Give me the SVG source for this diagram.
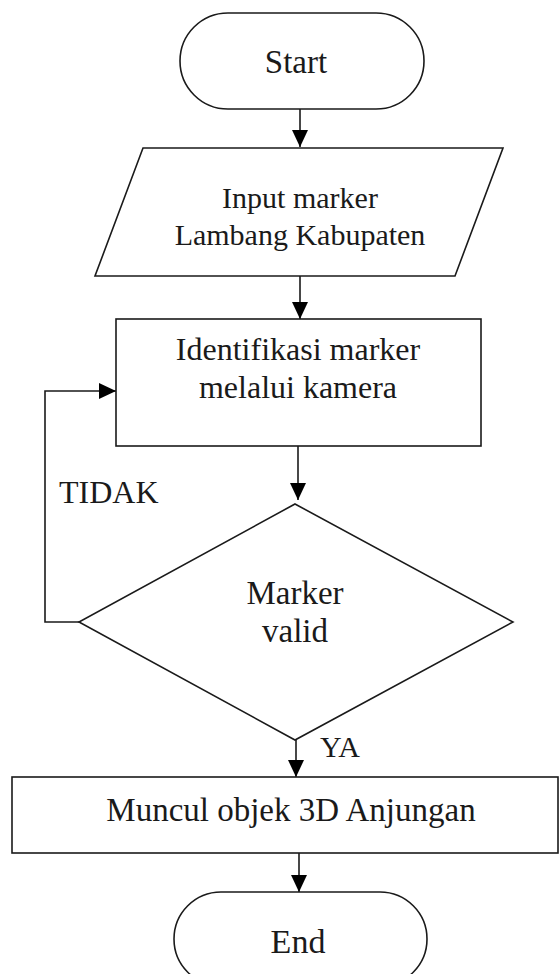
<svg xmlns="http://www.w3.org/2000/svg" width="560" height="974" viewBox="0 0 560 974">
<style>
.shape{fill:#fff;stroke:#1a1a1a;stroke-width:1.6}
.conn{fill:none;stroke:#1a1a1a;stroke-width:1.6}
text{font-family:"Liberation Serif","Times New Roman",serif;fill:#1a1a1a}
.c{text-anchor:middle}
</style>
<defs>
<marker id="arr" markerUnits="userSpaceOnUse" viewBox="0 0 17 16" refX="17" refY="8" markerWidth="17" markerHeight="16" orient="auto">
<path d="M0,0 L17,8 L0,16 Z" fill="#000"/>
</marker>
</defs>
<rect width="560" height="974" fill="#fff"/>
<g id="connectors">
<line class="conn" x1="300" y1="109" x2="300" y2="147" marker-end="url(#arr)"/>
<line class="conn" x1="300" y1="276" x2="300" y2="319" marker-end="url(#arr)"/>
<line class="conn" x1="298" y1="446" x2="298" y2="500" marker-end="url(#arr)"/>
<line class="conn" x1="296" y1="740" x2="296" y2="777" marker-end="url(#arr)"/>
<line class="conn" x1="299" y1="853" x2="299" y2="892" marker-end="url(#arr)"/>
<polyline class="conn" points="79,622 45,622 45,391 116,391" marker-end="url(#arr)"/>
<text x="59" y="503" font-size="32">TIDAK</text>
<text x="320" y="757" font-size="30">YA</text>
</g>
<g id="start">
<rect class="shape" x="180" y="13" width="244" height="96" rx="48" ry="48"/>
<text class="c" x="296" y="73" font-size="33">Start</text>
</g>
<g id="input">
<polygon class="shape" points="143,148 503,148 455,276 95,276"/>
<text class="c" x="300" y="208" font-size="30">Input marker</text>
<text class="c" x="300" y="245" font-size="30">Lambang Kabupaten</text>
</g>
<g id="identifikasi">
<rect class="shape" x="116" y="319" width="365" height="127"/>
<text class="c" x="298" y="360" font-size="32">Identifikasi marker</text>
<text class="c" x="298" y="398" font-size="32">melalui kamera</text>
</g>
<g id="decision">
<polygon class="shape" points="295,504 513,622 295,740 79,622"/>
<text class="c" x="295" y="604" font-size="33">Marker</text>
<text class="c" x="295" y="642" font-size="33">valid</text>
</g>
<g id="muncul">
<rect class="shape" x="12" y="777" width="546" height="76"/>
<text class="c" x="291" y="821" font-size="33">Muncul objek 3D Anjungan</text>
</g>
<g id="end">
<rect class="shape" x="174" y="892" width="253" height="94" rx="47" ry="47"/>
<text class="c" x="298" y="953" font-size="34">End</text>
</g>
</svg>
